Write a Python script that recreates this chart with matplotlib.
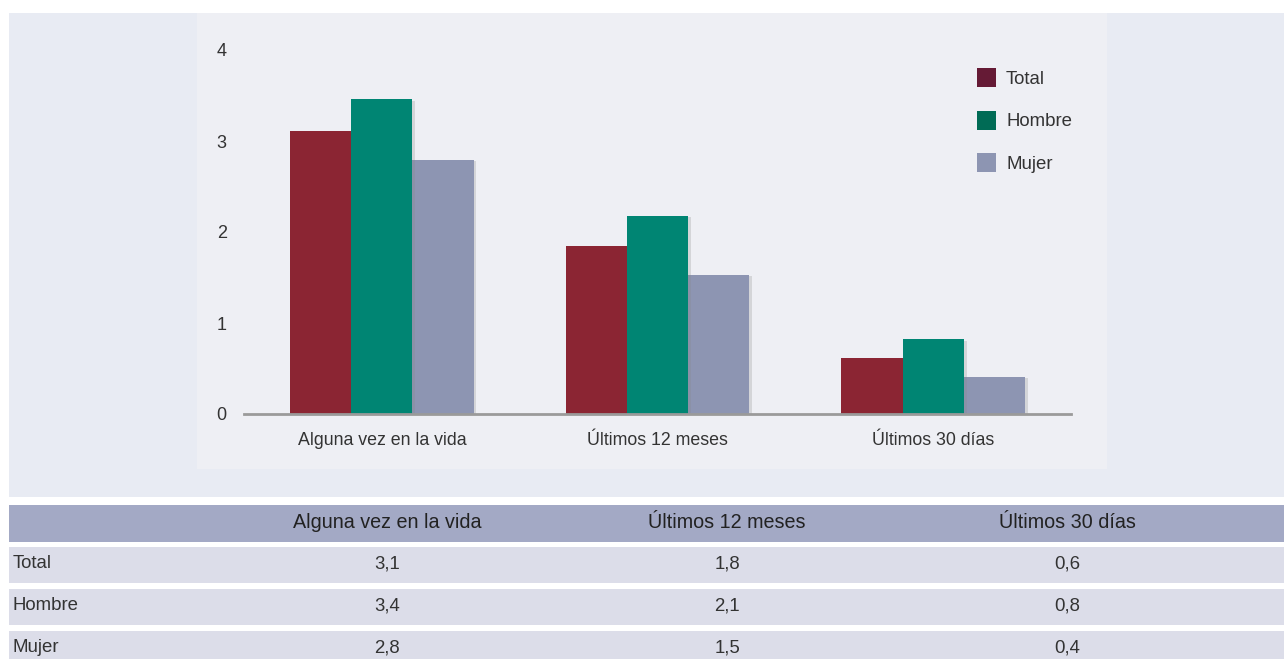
import matplotlib
matplotlib.use("Agg")
import matplotlib.pyplot as plt
from matplotlib.patches import Rectangle
import matplotlib.patheffects as pe
import numpy as np

categories = ["Alguna vez en la vida", "Últimos 12 meses", "Últimos 30 días"]
series = ["Total", "Hombre", "Mujer"]
# bar heights as drawn in the chart
total_bar = [3.11, 1.85, 0.62]
hombre_bar = [3.46, 2.18, 0.82]
mujer_bar = [2.79, 1.53, 0.41]
# values printed in the table
total_tab = ["3,1", "1,8", "0,6"]
hombre_tab = ["3,4", "2,1", "0,8"]
mujer_tab = ["2,8", "1,5", "0,4"]
yticks = [0, 1, 2, 3, 4]

bar_colors = ["#8b2533", "#008573", "#8d95b2"]
legend_colors = ["#651a35", "#006b55", "#8d95b2"]

W, H = 1284, 659
plt.rcParams['font.family'] = ['Liberation Sans', 'DejaVu Sans']
fig = plt.figure(figsize=(W / 100, H / 100), dpi=100)
fig.patch.set_facecolor("white")

def rect(x0, y0, x1, y1, color):
    fig.add_artist(Rectangle((x0 / W, 1 - y1 / H), (x1 - x0) / W, (y1 - y0) / H,
                             transform=fig.transFigure, facecolor=color,
                             edgecolor="none", zorder=0))

rect(9, 13, 1284, 497, "#e8ebf3")
rect(197, 13, 1107, 469, "#eeeff4")

ax = fig.add_axes([244 / W, 1 - 414 / H, (1071 - 244) / W, (414 - 50) / H])
ax.set_facecolor("none")
x = np.arange(len(categories))
bw = 0.222
bar_vals = [total_bar, hombre_bar, mujer_bar]
tab_vals = [total_tab, hombre_tab, mujer_tab]
shadow = [pe.SimplePatchShadow(offset=(2, -1), shadow_rgbFace="#888888", alpha=0.25), pe.Normal()]
for i, (name, v) in enumerate(zip(series, bar_vals)):
    bars = ax.bar(x + (i - 1) * bw, v, width=bw, color=bar_colors[i],
                  zorder=2 + (1 if i == 1 else 0))
    for b in bars:
        b.set_path_effects(shadow)

ax.set_xlim(-0.5, 2.5)
ax.set_ylim(0, 4)
ax.set_yticks(yticks)
ax.set_yticklabels([str(t) for t in yticks], fontsize=13, color="#333333")
ax.set_xticks(x)
ax.set_xticklabels(categories, fontsize=12.8, color="#333333")
ax.tick_params(axis="both", length=0)
ax.tick_params(axis="y", pad=12.5)
ax.tick_params(axis="x", pad=13)
for s in ["top", "right", "left"]:
    ax.spines[s].set_visible(False)
ax.spines["bottom"].set_color("#9a9a9a")
ax.spines["bottom"].set_linewidth(2)
ax.spines["bottom"].set_zorder(5)

for i, name in enumerate(series):
    yc = 77.5 + i * 42.5
    rect(977, yc - 9.5, 996, yc + 9.5, legend_colors[i])
    fig.text(1006 / W, 1 - (yc + 2) / H, name, fontsize=13.4, color="#333333",
             ha="left", va="center")

header_color = "#a3a9c5"
row_color = "#dcdde9"
col_x = [387, 727, 1067]
rect(9, 505, 1284, 542, header_color)
for j, c in enumerate(categories):
    fig.text(col_x[j] / W, 1 - 523 / H, c, fontsize=14.2, color="#222222",
             ha="center", va="center")
rows_y = [(547, 583), (589, 625), (631, 659)]
text_y = [564, 606, 648]
for i, name in enumerate(series):
    y0, y1 = rows_y[i]
    rect(9, y0, 1284, y1, row_color)
    fig.text(13 / W, 1 - text_y[i] / H, name, fontsize=13.4, color="#333333",
             ha="left", va="center")
    for j in range(len(categories)):
        fig.text(col_x[j] / W, 1 - text_y[i] / H, tab_vals[i][j],
                 fontsize=13.4, color="#333333", ha="center", va="center")

fig.savefig("out.png", dpi=100, facecolor=fig.get_facecolor())
